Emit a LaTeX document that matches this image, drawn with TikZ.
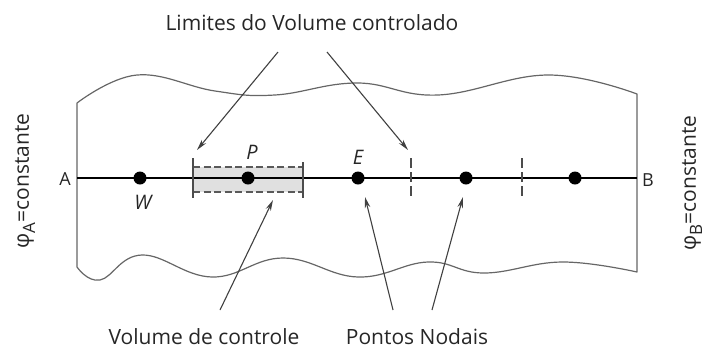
\documentclass[tikz,border=0pt]{standalone}
\usepackage{fontspec}
\setmainfont{Open Sans}
\usetikzlibrary{arrows.meta}
\begin{document}
\begin{tikzpicture}[x=1pt,y=-1pt,
  border/.style={draw=black!60, line width=1.2pt, line join=round},
  axisline/.style={draw=black, line width=2pt},
  dot/.style={circle, fill=black, inner sep=0pt, minimum size=13pt},
  ptr/.style={draw=black!75, line width=1.1pt, -{Stealth[length=11pt,width=5.5pt]}},
  lbl/.style={font=\fontsize{21}{25}\selectfont, text=black!85, inner sep=0pt},
  plbl/.style={font=\fontsize{18}{22}\selectfont, text=black!85, inner sep=0pt},
  ilbl/.style={font=\fontsize{20}{24}\selectfont\itshape, text=black!85, inner sep=0pt},
  cvdash/.style={draw=black!65, line width=1.2pt, dash pattern=on 7pt off 3.5pt},
  tickline/.style={draw=black!70, line width=1.2pt},
  dtick/.style={draw=black!70, line width=1.2pt, dash pattern=on 10pt off 4pt},
]
\useasboundingbox (0,0) rectangle (706,349);

% control volume shading
\fill[black!12] (193,167) rectangle (303,192);

% wavy domain border
\draw[border] (77,267) -- (77,103)
  -- plot[smooth,tension=0.7] coordinates {(77,103) (137,75) (215,91) (275,95) (357,83) (438,95) (548,75) (637,94)}
  -- (637,272)
  -- plot[smooth,tension=0.7] coordinates {(637,272) (562,262) (484,273) (428,262) (358,277) (283,258) (212,277) (142,255) (100,280) (77,267)}
  -- cycle;

% control volume dashed faces
\draw[cvdash] (193,167) -- (303,167);
\draw[cvdash] (193,192) -- (303,192);

% main line
\coordinate (aL) at (77,178);
\coordinate (bR) at (637,178);
\draw[axisline] (aL) -- (bR);
\node[plbl] (A) at (65,179) {A};
\node[plbl] (B) at (648,180) {B};

% face ticks
\coordinate (f1t) at (193,158); \coordinate (f1b) at (193,198);
\coordinate (f2t) at (303,162); \coordinate (f2b) at (303,198);
\coordinate (f3t) at (411,158); \coordinate (f3b) at (411,198);
\coordinate (f4t) at (522,158); \coordinate (f4b) at (522,198);
\draw[tickline] (f1t) -- (f1b);
\draw[tickline] (f2t) -- (f2b);
\draw[dtick] (f3t) -- (f3b);
\draw[dtick] (f4t) -- (f4b);

% nodes
\node[dot] (W) at (140,178) {};
\node[dot] (P) at (248,178) {};
\node[dot] (E) at (358,178) {};
\node[dot] (N4) at (466,178) {};
\node[dot] (N5) at (575,178) {};
\node[ilbl] (Wl) at (143,202) {W};
\node[ilbl] (Pl) at (252,152) {P};
\node[ilbl] (El) at (358,157) {E};

% labels
\node[lbl] (tit) at (312,23) {Limites do Volume controlado};
\node[lbl, anchor=base] (vc) at (204,344) {Volume de controle};
\node[lbl, anchor=base] (pn) at (417,344) {Pontos Nodais};
\node[lbl, rotate=90] (phiA) at (25,181) {φ\raisebox{-0.3em}{\fontsize{17}{20}\selectfont A}=constante};
\node[lbl, rotate=90] (phiB) at (692,183) {φ\raisebox{-0.3em}{\fontsize{17}{20}\selectfont B}=constante};

% pointers
\coordinate (t1) at (278,52); \coordinate (h1) at (197,150);
\coordinate (t2) at (327,52); \coordinate (h2) at (408,150);
\coordinate (t3) at (220,310); \coordinate (h3) at (273,200);
\coordinate (t4) at (393,310); \coordinate (h4) at (365,197);
\coordinate (t5) at (432,310); \coordinate (h5) at (463,197);
\draw[ptr] (t1) -- (h1);
\draw[ptr] (t2) -- (h2);
\draw[ptr] (t3) -- (h3);
\draw[ptr] (t4) -- (h4);
\draw[ptr] (t5) -- (h5);
\end{tikzpicture}
\end{document}
